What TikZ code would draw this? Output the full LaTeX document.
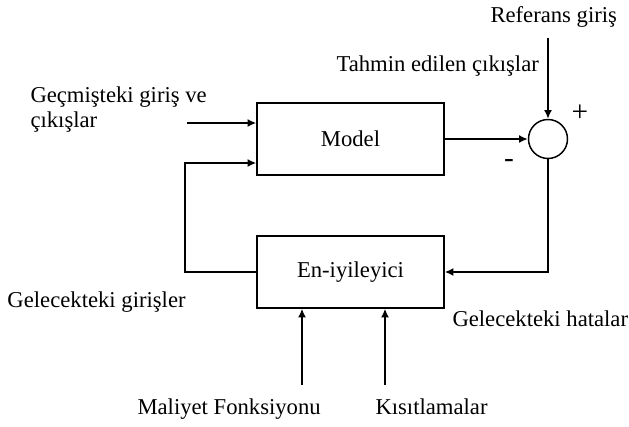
\documentclass[tikz,border=0pt]{standalone}
\usepackage{fontspec}
\setmainfont{Liberation Serif}
\usetikzlibrary{arrows.meta}

\tikzset{every picture/.style={line width=0.75pt}}
\tikzset{
  blok/.style={draw, line width=1.1pt, minimum width=140.25pt, minimum height=54pt, inner sep=0pt},
  toplayici/.style={draw, circle, line width=1.1pt, minimum size=29.25pt, inner sep=0pt},
  ok/.style={line width=1.5pt, -{Latex[length=6.5pt,width=6pt]}},
  yazi/.style={font=\fontsize{17}{19}\selectfont, inner sep=0pt},
  isaret/.style={font=\fontsize{22}{24}\selectfont, inner sep=0pt}
}

\begin{document}
\begin{tikzpicture}[x=0.75pt,y=0.75pt,yscale=-1,xscale=1]
\useasboundingbox (0,0) rectangle (629,427);

%Shape: Rectangle [id:model]
\node [blok, yazi] (model) at (350.5,139) {Model};
%Shape: Rectangle [id:eniyi]
\node [blok, yazi] (eniyi) at (350.5,272) {En-iyileyici};
%Shape: Circle [id:toplam]
\node [toplayici] (toplam) at (548,139) {};

%Free ends
\coordinate (gecmisuc) at (187,123);
\coordinate (referansuc) at (548,38);
\coordinate (donus) at (185,163);
\coordinate (maliyetuc) at (302,385);
\coordinate (kisituc) at (385,385);

%Straight Lines
\draw [ok] (gecmisuc) -- (model.west |- gecmisuc);
\draw [ok] (model.east) -- (toplam.west);
\draw [ok] (referansuc) -- (toplam.north);
\draw [ok] (toplam.south) |- (eniyi.east);
\draw [ok] (eniyi.west) -| (donus) -- (model.west |- donus);
\draw [ok] (maliyetuc) -- (maliyetuc |- eniyi.south);
\draw [ok] (kisituc) -- (kisituc |- eniyi.south);

% Text Node
\draw (490,23) node [anchor=base west][yazi] (referans) {Referans giriş};
% Text Node
\draw (336,72) node [anchor=base west][yazi] (tahmin) {Tahmin edilen çıkışlar};
% Text Node
\draw (30,86) node [anchor=north west][yazi, align=left] (gecmis) {Geçmişteki giriş ve\\çıkışlar};
% Text Node
\draw (7,308) node [anchor=base west][yazi] (gelecekgiris) {Gelecekteki girişler};
% Text Node
\draw (452,327) node [anchor=base west][yazi] (hatalar) {Gelecekteki hatalar};
% Text Node
\draw (137,415) node [anchor=base west][yazi] (maliyet) {Maliyet Fonksiyonu};
% Text Node
\draw (375,415) node [anchor=base west][yazi] (kisit) {Kısıtlamalar};
% Text Node
\draw (580,113) node [isaret] (arti) {+};
% Text Node
\draw (509,164) node [isaret] (eksi) {-};

\end{tikzpicture}
\end{document}
